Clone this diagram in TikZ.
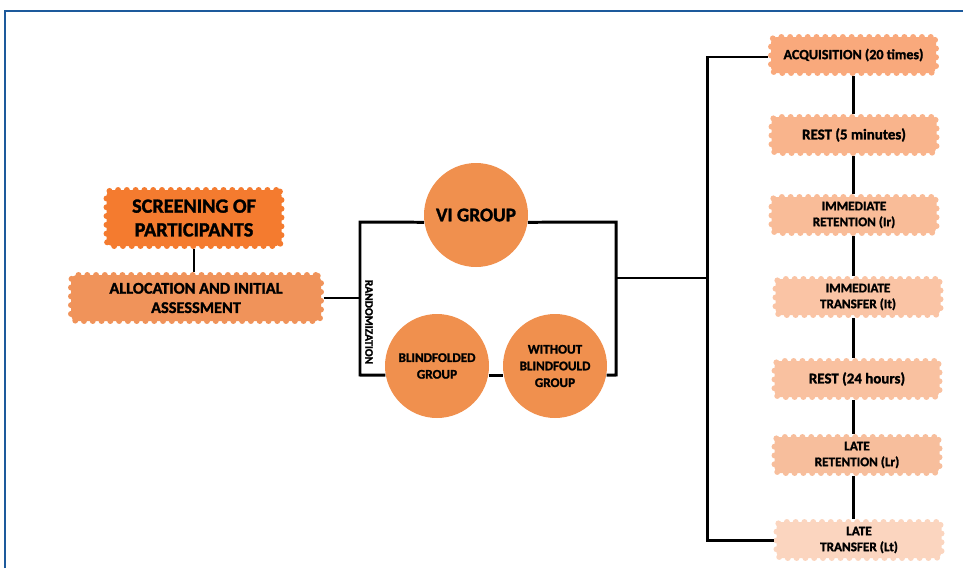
\documentclass[tikz,border=0pt]{standalone}
\usepackage{fontspec}
\setmainfont{Carlito}[BoldFeatures={FakeBold=1.5}]

\definecolor{frameblue}{HTML}{1D5A9C}
\definecolor{screenorange}{HTML}{F47B2F}
\definecolor{allocorange}{HTML}{F0935A}
\definecolor{circorange}{HTML}{F0904E}
\definecolor{acqcol}{RGB}{249,169,124}
\definecolor{restAcol}{RGB}{249,180,140}
\definecolor{iretcol}{RGB}{249,188,152}
\definecolor{itranscol}{RGB}{250,196,165}
\definecolor{restBcol}{RGB}{249,193,160}
\definecolor{lretcol}{RGB}{247,190,156}
\definecolor{ltranscol}{RGB}{251,213,191}

\tikzset{
  scallop/.style={rectangle, rounded corners=3pt, fill=#1, draw=#1, line width=3.4pt, line cap=round,
    dash pattern=on 0pt off 5pt, align=center, inner sep=2pt},
  stepbox/.style={scallop=#1, minimum width=3.3cm, minimum height=0.72cm, font=\bfseries\fontsize{7.5}{9}\selectfont},
  group/.style={circle, fill=circorange, minimum size=2.08cm, inner sep=0pt, align=center},
  link/.style={line width=1.7pt, black}
}

\begin{document}
\begin{tikzpicture}
			\useasboundingbox (0,0) rectangle (19.26,11.36);
			% Frame
			\draw[frameblue, line width=1.2pt] (0.1,0) -- (0.1,11.14) -- (19.26,11.14);
			
			% Left boxes
			\node[scallop=screenorange, minimum width=3.5cm, minimum height=1.12cm, font=\bfseries\fontsize{11.5}{13.5}\selectfont] (screen) at (3.88,7.00) {SCREENING OF\\PARTICIPANTS};
			\node[scallop=allocorange, minimum width=5.0cm, minimum height=0.92cm, font=\bfseries\fontsize{9.3}{11}\selectfont] (alloc) at (3.92,5.40) {ALLOCATION AND INITIAL\\ASSESSMENT};
			
			% Groups
			\node[group, font=\bfseries\fontsize{11}{13}\selectfont] (vi) at (9.52,7.06) {VI GROUP};
			\node[group, font=\bfseries\fontsize{7.5}{9.5}\selectfont] (blind) at (8.74,4.04) {BLINDFOLDED\\GROUP};
			\node[group, font=\bfseries\fontsize{7.5}{9.5}\selectfont] (without) at (11.10,4.04) {WITHOUT\\BLINDFOULD\\GROUP};
			\node[rotate=-90, inner sep=0pt, font=\bfseries\fontsize{6.5}{7}\selectfont] (rand) at (7.38,4.92) {RANDOMIZATION};
			
			% Steps
			\node[stepbox=acqcol, font=\bfseries\fontsize{8}{9}\selectfont] (acq) at (17.07,10.26) {ACQUISITION (20 times)};
			\node[stepbox=restAcol, font=\bfseries\fontsize{8.5}{9}\selectfont] (rest5) at (17.08,8.66) {REST (5 minutes)};
			\node[stepbox=iretcol] (iret) at (17.08,7.06) {IMMEDIATE\\RETENTION (Ir)};
			\node[stepbox=itranscol] (itrans) at (17.16,5.42) {IMMEDIATE\\TRANSFER (It)};
			\node[stepbox=restBcol, font=\bfseries\fontsize{8.5}{9}\selectfont] (rest24) at (17.14,3.78) {REST (24 hours)};
			\node[stepbox=lretcol] (lret) at (17.14,2.26) {LATE\\RETENTION (Lr)};
			\node[stepbox=ltranscol] (ltrans) at (17.18,0.56) {LATE\\TRANSFER (Lt)};
			
			% Junction points
			\coordinate (rtop) at (7.20,6.92);
			\coordinate (rbot) at (7.20,3.86);
			\coordinate (mtop) at (12.32,6.92);
			\coordinate (mbot) at (12.32,3.86);
			\coordinate (mmid) at (12.32,5.80);
			\coordinate (tmid) at (14.14,5.80);
			\coordinate (ttop) at (14.14,10.22);
			\coordinate (tbot) at (14.14,0.56);
			
			% Connectors
			\draw[link] (screen.south) -- (screen.south |- alloc.north);
			\draw[link] (alloc.east) -- (alloc.east -| rtop);
			\draw[link] (vi.188) -- (rtop) -- (rbot) -- (blind.190);
			\draw[link] (blind.350) -- (without.190);
			\draw[link] (without.350) -- (mbot) -- (mtop) -- (vi.352);
			\draw[link] (mmid) -- (tmid);
			\draw[link] (acq.west |- ttop) -- (ttop) -- (tbot) -- (ltrans.west);
			\foreach \a/\b in {acq/rest5, rest5/iret, iret/itrans, itrans/rest24, rest24/lret, lret/ltrans}
				\draw[link] (\a.south -| acq.south) -- (\b.north -| acq.south);
		\end{tikzpicture}
\end{document}
